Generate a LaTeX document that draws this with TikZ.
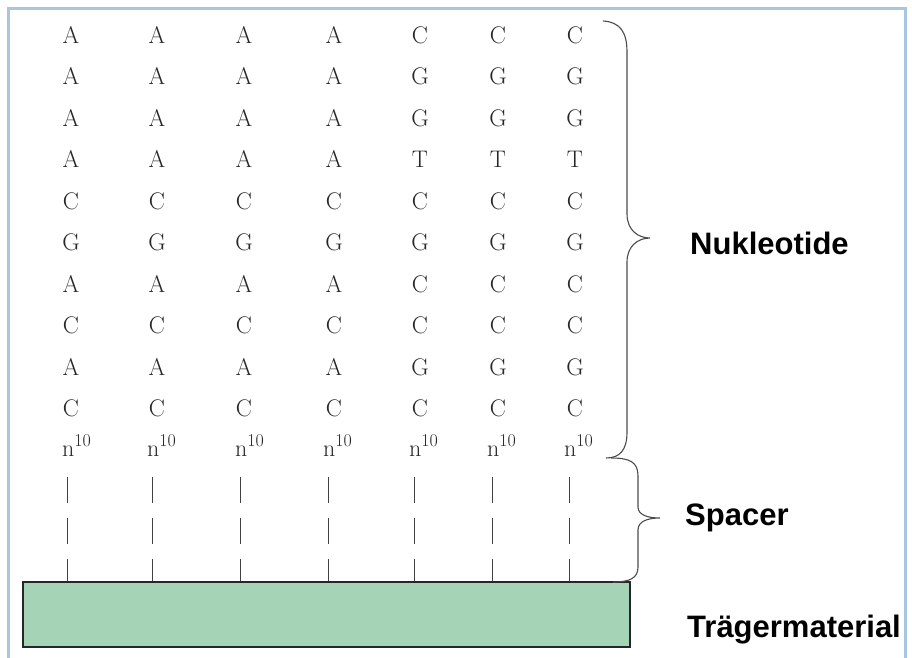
\documentclass[tikz,border=0pt]{standalone}
\usepackage{fontspec}
\setsansfont{Liberation Sans}
\begin{document}
\begin{tikzpicture}[x=1pt,y=-1pt,
  base/.style={font=\rmfamily\fontsize{24}{28}\selectfont, text=black!85, inner sep=0pt},
  lbl/.style={font=\sffamily\bfseries\fontsize{31}{36}\selectfont, anchor=west, inner sep=0pt},
  brc/.style={draw=black!70, line width=1.1pt},
  spc/.style={draw=black!75, line width=1pt, dash pattern=on 26pt off 15pt}]
\useasboundingbox (0,0) rectangle (912,657);
\fill[white] (0,0) rectangle (912,657);
% frame
\draw[line width=3pt, color={rgb,255:red,168;green,198;blue,226}] (8,700) -- (8,8) -- (905,8) -- (905,700);
% letters
\foreach \c/\x in {1/71,2/157,3/244,4/334}{
  \foreach \b [count=\r] in {A,A,A,A,C,G,A,C,A,C}{
    \node[base] (l\c-\r) at (\x, {35+41.5*(\r-1)}) {\b};
  }
}
\foreach \c/\x in {5/420,6/498,7/575}{
  \foreach \b [count=\r] in {C,G,G,T,C,G,C,C,G,C}{
    \node[base] (l\c-\r) at (\x, {35+41.5*(\r-1)}) {\b};
  }
}
% carrier
\node[draw=black!85, line width=1.2pt, fill={rgb,255:red,164;green,212;blue,181},
  minimum width=607pt, minimum height=65pt, inner sep=0pt] (tr) at (326.5,614.5) {};
% n10 and spacers
\foreach \c/\x in {1/67,2/152,3/240,4/328,5/414,6/492,7/569}{
  \node[base, anchor=base west] (n\c) at (\x-5, 456) {n\raisebox{10pt}{\fontsize{18}{20}\selectfont 10}};
  \coordinate (s\c) at (\x, 477);
  \draw[spc] (s\c) -- (s\c |- tr.north);
}
% braces
\draw[brc] (603,21) .. controls (620,22) and (627,32) .. (627,52) -- (627,214)
  .. controls (627,230) and (638,238) .. (650,238)
  .. controls (638,238) and (627,246) .. (627,262) -- (627,432)
  .. controls (627,450) and (620,458) .. (606,458);
\draw[brc] (611,458) .. controls (630,458) and (638,462) .. (638,476) -- (638,507)
  .. controls (638,515) and (648,518) .. (660,518)
  .. controls (648,518) and (638,521) .. (638,530) -- (638,567)
  .. controls (638,578) and (630,582) .. (613,582);
% labels
\node[lbl] (nuk) at (690,243) {Nukleotide};
\node[lbl] (spa) at (685,518) {Spacer};
\node[lbl] (trg) at (687,630) {Trägermaterial};
\end{tikzpicture}
\end{document}
